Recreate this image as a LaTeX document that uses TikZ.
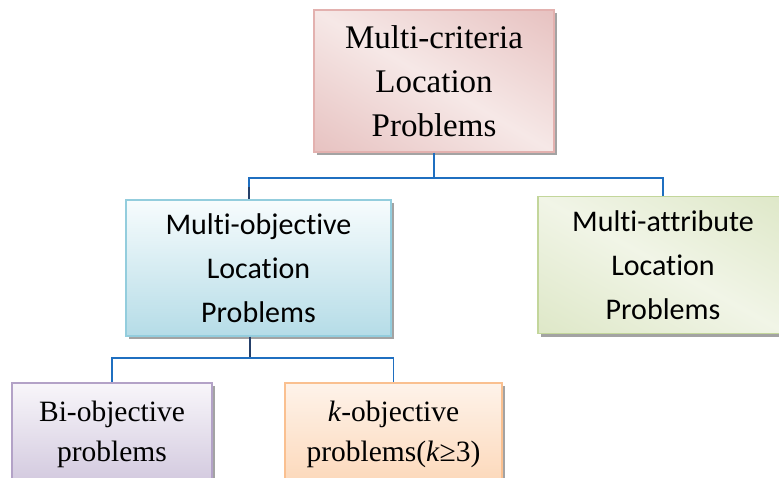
\documentclass[tikz,border=0pt]{standalone}
\usepackage{fontspec}
\setmainfont{Liberation Serif}
\newfontfamily\calibri[Ligatures={NoCommon}]{Carlito}
\usetikzlibrary{shadows}
\definecolor{pinkline}{HTML}{E3B1AF}
\definecolor{bluetop}{HTML}{F7FCFD}
\definecolor{bluebot}{HTML}{B5DCE7}
\definecolor{blueline}{HTML}{93CDDD}
\definecolor{greenline}{HTML}{C3D69B}
\definecolor{lavtop}{HTML}{F8F6FA}
\definecolor{lavbot}{HTML}{CFC5DC}
\definecolor{lavline}{HTML}{B3A2C7}
\definecolor{peachtop}{HTML}{FEF3EA}
\definecolor{peachbot}{HTML}{FCD6B6}
\definecolor{peachline}{HTML}{FAC090}
\definecolor{conblue}{HTML}{1F6FC0}
\definecolor{connavy}{HTML}{25406A}
\pgfdeclarefunctionalshading{pinkdiag}{\pgfpoint{0bp}{0bp}}{\pgfpoint{100bp}{100bp}}{}{
  add 100 sub abs 100 div dup dup
  -0.120 mul 0.965 add
  3 1 roll
  -0.300 mul 0.910 add
  exch
  -0.300 mul 0.905 add
}
\pgfdeclarefunctionalshading{greendiag}{\pgfpoint{0bp}{0bp}}{\pgfpoint{100bp}{100bp}}{}{
  add 100 sub abs 100 div dup dup
  -0.150 mul 0.945 add
  3 1 roll
  -0.105 mul 0.960 add
  exch
  -0.245 mul 0.905 add
}
\tikzset{
  box/.style={rectangle, draw, line width=1.2pt, align=center, inner sep=0pt,
    drop shadow={shadow xshift=3pt, shadow yshift=-3pt, fill=black!45, opacity=0.8}},
  topbox/.style={box, draw=pinkline, shading=pinkdiag,
    minimum width=240pt, minimum height=142pt,
    font=\fontsize{33}{44}\selectfont},
  midbox/.style={box, draw=blueline, top color=bluetop, bottom color=bluebot,
    minimum width=265pt, minimum height=136pt,
    font=\calibri\fontsize{30}{44}\selectfont},
  rightbox/.style={box, draw=greenline, shading=greendiag,
    minimum width=250pt, minimum height=137pt,
    font=\calibri\fontsize{30}{44}\selectfont},
  lowbox/.style={box, line width=1.5pt, minimum height=110pt,
    font=\fontsize{29.5}{40}\selectfont},
  biglink/.style={line width=2.4pt, conblue},
  smalllink/.style={line width=1.4pt, conblue},
  navylink/.style={line width=1.8pt, connavy}
}
\begin{document}
\begin{tikzpicture}[x=1pt, y=-1pt]
\useasboundingbox (0,0) rectangle (779,478);
\node[topbox] (top) at (434,81) {Multi-criteria\\Location\\Problems};
\node[midbox] (mid) at (258.5,268) {Multi-objective\\Location\\Problems};
\node[rightbox] (right) at (663,265) {Multi-attribute\\Location\\Problems};
\node[lowbox, draw=lavline, top color=lavtop, bottom color=lavbot, minimum width=200pt, anchor=north] (bi) at (112,382)
  {\raisebox{0pt}[30pt][12pt]{}Bi-objective\\problems\raisebox{0pt}[20pt][22pt]{}};
\node[lowbox, draw=peachline, top color=peachtop, bottom color=peachbot, minimum width=217pt, anchor=north] (k) at (393.5,382)
  {\raisebox{0pt}[30pt][12pt]{}\textit{k}-objective\\problems(\textit{k}≥3)\raisebox{0pt}[20pt][22pt]{}};
\coordinate (j1) at (434,178);
\coordinate (j2) at (250,358);
\draw[biglink] (top.south) -- (j1);
\draw[biglink] (j1) -| ([xshift=-9.5pt]mid.north);
\draw[biglink] (j1) -| (right.north);
\draw[navylink] ([xshift=-9.5pt,yshift=12pt]mid.north) -- ([xshift=-9.5pt]mid.north);
\draw[navylink] ([xshift=-8.5pt]mid.south) -- (j2);
\draw[smalllink] (j2) -| (bi.north);
\draw[smalllink] (j2) -| (k.north);
\end{tikzpicture}
\end{document}
